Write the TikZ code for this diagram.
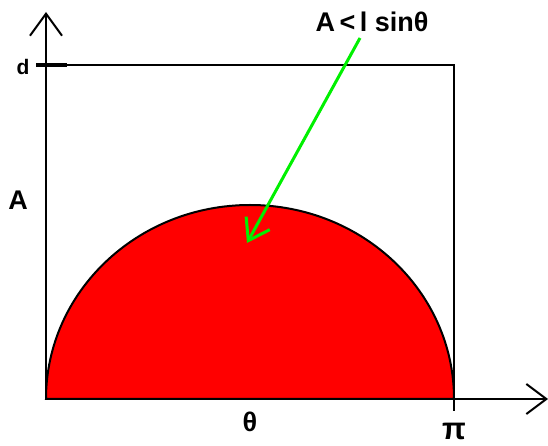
\documentclass[tikz,border=0pt]{standalone}
\usepackage{fontspec}
\setmainfont{Liberation Sans}
\usetikzlibrary{arrows.meta}
\definecolor{brightred}{RGB}{255,0,0}
\definecolor{brightgreen}{RGB}{0,240,0}
\begin{document}
\begin{tikzpicture}[x=1pt,y=1pt,
  axis/.style={line width=2pt,-{Straight Barb[length=22pt,width=32pt,line width=2pt]}},
  lbl/.style={inner sep=0pt,font=\bfseries\fontsize{27}{29}\selectfont},
  small/.style={inner sep=0pt,font=\bfseries\fontsize{21}{23}\selectfont}]
\useasboundingbox (0,0) rectangle (548,446);
\coordinate (O) at (46,47);
\coordinate (ytip) at (46,434);
\coordinate (xtip) at (548,47);
\coordinate (TR) at (454,381);
\coordinate (pi) at (454,47);
% semicircle region
\filldraw[fill=brightred,draw=black,line width=2pt] (O) arc[start angle=180,end angle=0,x radius=204,y radius=194] -- cycle;
% rectangle
\draw[line width=2pt] (O) |- (TR) -- (pi);
% axes
\draw[axis] (O) -- (ytip);
\draw[line width=2pt,-{Straight Barb[length=20pt,width=30pt,line width=2pt]}] (O) -- (xtip);
% ticks
\coordinate (dl) at (36,381);
\coordinate (dr) at (67,381);
\draw[line width=4pt] (dl) -- (dr);
\coordinate (pib) at (454,35);
\draw[line width=2pt] (pi) -- (pib);
% labels
\node[small] (d) at (23,379) {d};
\node[lbl] (A) at (18,246) {A};
\node[lbl] (theta) at (250,24) {θ};
\node[lbl,font=\bfseries\fontsize{31}{33}\selectfont] (pilab) at (454,15) {π};
\node[lbl,font=\bfseries\fontsize{27}{29}\selectfont] (cond) at (372,424) {A\,<\,l sinθ};
% green arrow
\coordinate (gs) at (360,408);
\coordinate (ge) at (247,203);
\draw[brightgreen,line width=3pt,-{Straight Barb[length=20pt,width=27pt,line width=3pt]}] (gs) -- (ge);
\end{tikzpicture}
\end{document}
